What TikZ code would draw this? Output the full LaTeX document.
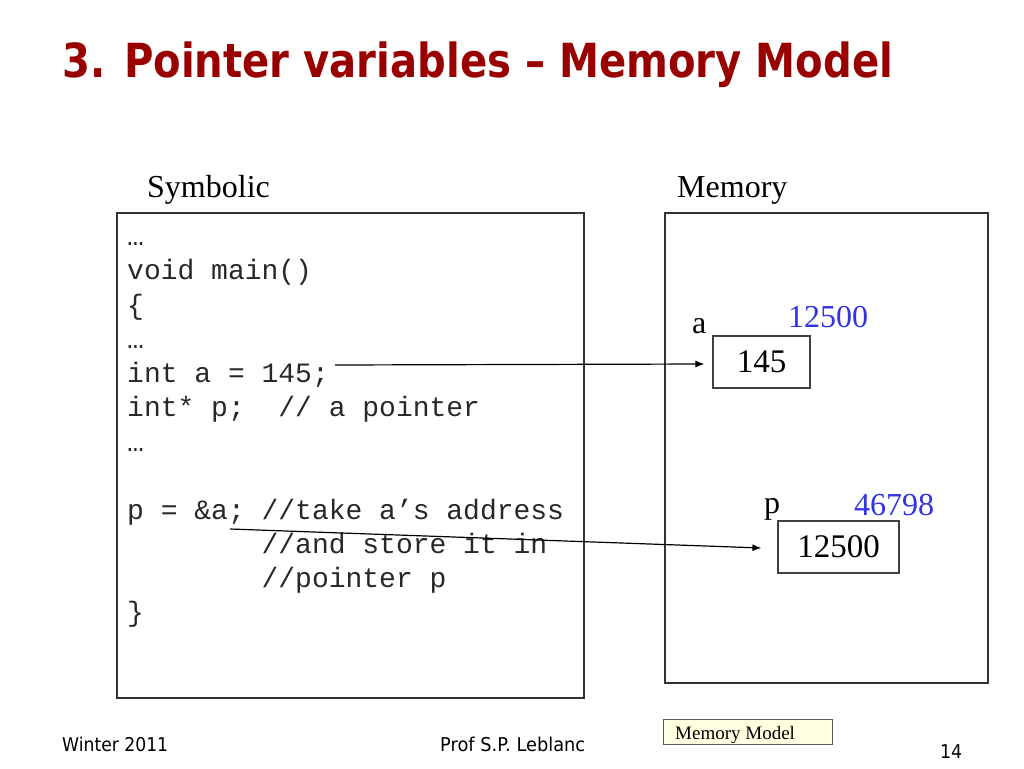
\documentclass[tikz,border=0pt]{standalone}
\usepackage{fontspec}
\setmainfont{Liberation Serif}
\newfontfamily\tahoma{DejaVu Sans}
\newfontfamily\codefont{Liberation Mono}
\usetikzlibrary{arrows.meta}
\definecolor{titlered}{RGB}{153,0,0}
\definecolor{addrblue}{RGB}{51,51,230}
\definecolor{noteyellow}{RGB}{255,255,225}
\definecolor{codegray}{RGB}{40,40,40}
\newcommand{\ind}{\hspace*{4.8em}}
\tikzset{
  codeline/.style={anchor=base west, inner sep=0pt, text=codegray, font=\codefont\fontsize{28}{34}\selectfont},
  serif/.style={anchor=base west, inner sep=0pt, font=\fontsize{32}{38}\selectfont},
  addr/.style={serif, text=addrblue},
  cell/.style={draw=black!75, line width=1.2pt, inner sep=0pt, font=\fontsize{33}{38}\selectfont},
  panel/.style={draw=black!80, line width=1.2pt},
  link/.style={line width=1.2pt, -{Latex[length=9pt,width=7pt]}},
  foot/.style={anchor=base west, inner sep=0pt, font=\tahoma\fontsize{19}{23}\selectfont}
}
\begin{document}
\begin{tikzpicture}[x=1pt,y=-1pt]
\useasboundingbox (0,0) rectangle (1024,768);
% title
\node[anchor=base west, inner sep=0pt, text=titlered, font=\tahoma\bfseries\fontsize{47}{54}\selectfont] (title) at (62,77)
  {\resizebox{831pt}{\height}{3. Pointer variables – Memory Model}};
% headers
\node[serif] (sym) at (147,197) {Symbolic};
\node[serif] (mem) at (677,197) {Memory};
% panels
\draw[panel] (117,213) rectangle (584,698);
\draw[panel] (665,213) rectangle (988,683);
% code
\node[codeline] (l1) at (127,245) {…};
\node[codeline] (l2) at (127,279.5) {void main()};
\node[codeline] (l3) at (127,314) {\{};
\node[codeline] (l4) at (127,348) {…};
\node[codeline] (l5) at (127,382.5) {int a = 145;};
\node[codeline] (l6) at (127,416.5) {int* p;\ \ // a pointer};
\node[codeline] (l7) at (127,451) {…};
\node[codeline] (l8) at (127,519) {p = \&a; //take a’s address};
\node[codeline] (l9) at (127,553) {\ind//and store it in};
\node[codeline] (l10) at (127,587.5) {\ind//pointer p};
\node[codeline] (l11) at (127,621) {\}};
% memory cells
\node[cell, minimum width=97pt, minimum height=52pt] (boxa) at (761.5,362) {145};
\node[serif] (la) at (692,333) {a};
\node[addr] (adra) at (788,327) {12500};
\node[cell, minimum width=121pt, minimum height=52pt] (boxp) at (838.5,547) {12500};
\node[serif] (lp) at (764,513) {p};
\node[addr] (adrp) at (854,515) {46798};
% connectors
\coordinate (s1) at (335,365);
\coordinate (s2) at (230,529);
\draw[link] (s1) -- ([xshift=-8pt,yshift=-2pt]boxa.west);
\draw[link] (s2) -- ([xshift=-16pt,yshift=-1pt]boxp.west);
% footer
\node[foot] (f1) at (62,751) {\resizebox{106pt}{\height}{Winter 2011}};
\node[foot] (f2) at (440,751) {\resizebox{145pt}{\height}{Prof S.P. Leblanc}};
\node[foot] (f3) at (940,758) {\resizebox{22pt}{\height}{14}};
\node[draw=black!65, line width=1pt, fill=noteyellow, minimum width=169pt, minimum height=25pt, inner sep=0pt] (note) at (747.5,731.5) {};
\node[anchor=base west, inner sep=0pt, font=\fontsize{19}{22}\selectfont] (notetxt) at (675,739) {Memory Model};
\end{tikzpicture}
\end{document}
